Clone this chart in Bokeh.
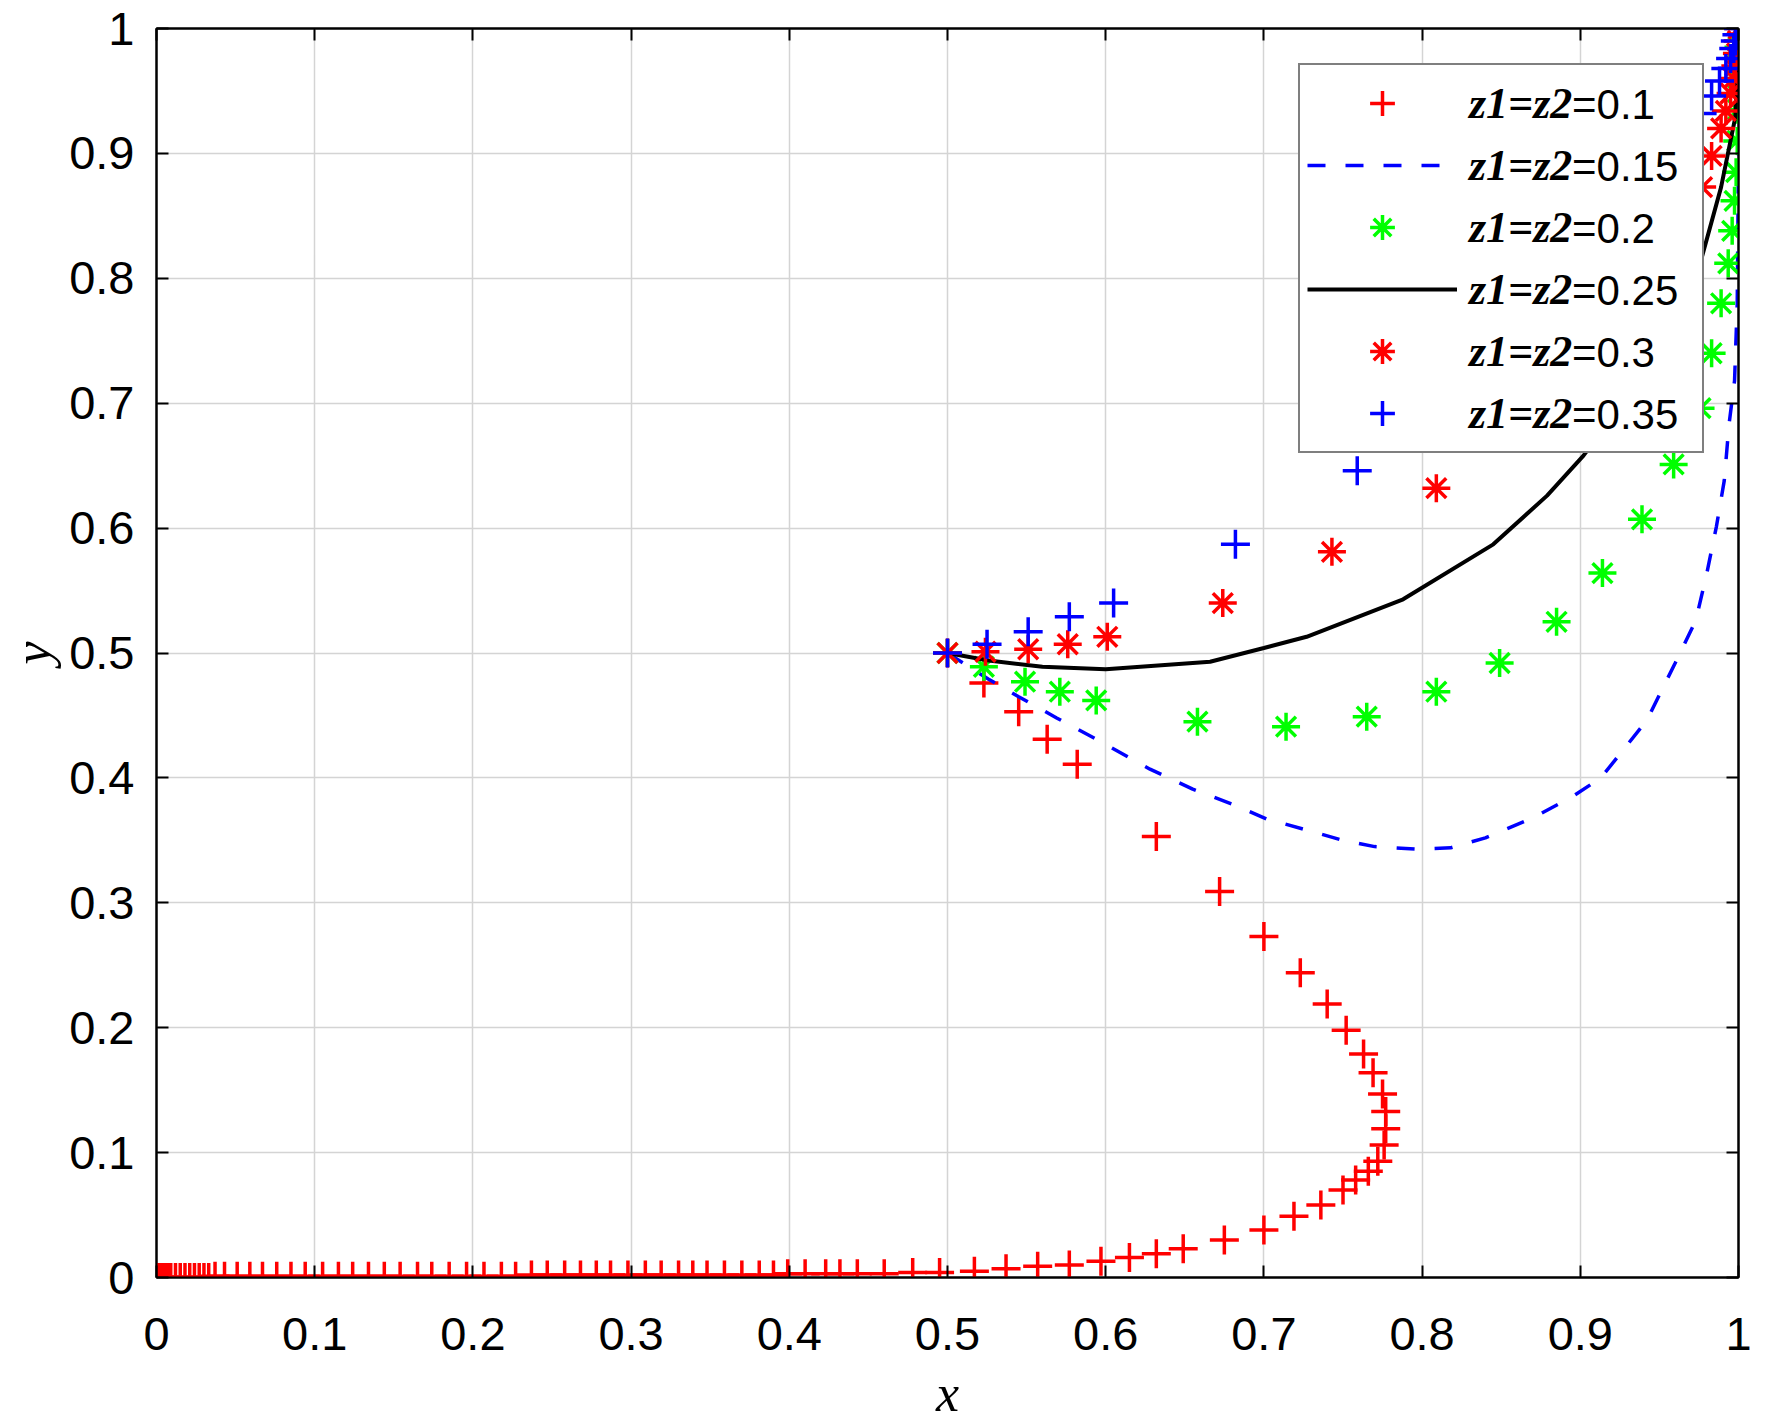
from bokeh.plotting import figure
from bokeh.models import (Range1d, FixedTicker, LinearAxis, Legend, LegendItem,
                          CustomJSTickFormatter)
from bokeh.embed import file_html
from bokeh.resources import INLINE

# ---------------- data ----------------
x_ticks = [0, 0.1, 0.2, 0.3, 0.4, 0.5, 0.6, 0.7, 0.8, 0.9, 1]
x_tick_labels = ["0", "0.1", "0.2", "0.3", "0.4", "0.5", "0.6", "0.7", "0.8", "0.9", "1"]
y_ticks = [0, 0.1, 0.2, 0.3, 0.4, 0.5, 0.6, 0.7, 0.8, 0.9, 1]
y_tick_labels = ["0", "0.1", "0.2", "0.3", "0.4", "0.5", "0.6", "0.7", "0.8", "0.9", "1"]

legend_left = ["z1=z2", "z1=z2", "z1=z2", "z1=z2", "z1=z2", "z1=z2"]
legend_right = ["=0.1", "=0.15", "=0.2", "=0.25", "=0.3", "=0.35"]

# z1=z2=0.1  (red +)
x01 = [0.500, 0.523, 0.545, 0.563, 0.582, 0.632, 0.672, 0.700, 0.723, 0.740,
       0.752, 0.763, 0.769, 0.775, 0.777, 0.777, 0.776, 0.772, 0.766, 0.758,
       0.750, 0.736, 0.719, 0.700, 0.675, 0.649, 0.632, 0.615, 0.597, 0.577,
       0.557, 0.537, 0.517, 0.495, 0.478, 0.460, 0.443, 0.432, 0.423, 0.410,
       0.399, 0.390, 0.381, 0.370, 0.359, 0.348, 0.339, 0.330, 0.319, 0.309,
       0.298, 0.287, 0.278, 0.268, 0.258, 0.247, 0.237, 0.227, 0.218, 0.207,
       0.196, 0.185, 0.174, 0.165, 0.154, 0.144, 0.134, 0.124, 0.115, 0.105,
       0.094, 0.085, 0.076, 0.067, 0.059, 0.051, 0.043, 0.037, 0.033, 0.030,
       0.027, 0.024, 0.021, 0.018, 0.015, 0.012, 0.009, 0.007, 0.005, 0.003,
       0.002, 0.001, 0.000]
y01 = [0.500, 0.476, 0.453, 0.431, 0.411, 0.353, 0.309, 0.273, 0.244, 0.219,
       0.198, 0.179, 0.164, 0.147, 0.133, 0.119, 0.106, 0.093, 0.085, 0.078,
       0.070, 0.058, 0.049, 0.038, 0.030, 0.023, 0.019, 0.016, 0.013, 0.010,
       0.009, 0.007, 0.005, 0.004, 0.004, 0.003, 0.003, 0.003, 0.003, 0.003,
       0.003, 0.002, 0.002, 0.002, 0.002, 0.002, 0.002, 0.002, 0.002, 0.002,
       0.002, 0.002, 0.002, 0.002, 0.002, 0.002, 0.002, 0.001, 0.001, 0.001,
       0.001, 0.001, 0.001, 0.001, 0.001, 0.001, 0.001, 0.001, 0.001, 0.001,
       0.001, 0.001, 0.001, 0.001, 0.001, 0.001, 0.001, 0.001, 0.000, 0.000,
       0.000, 0.000, 0.000, 0.000, 0.000, 0.000, 0.000, 0.000, 0.000, 0.000,
       0.000, 0.000, 0.000]

# z1=z2=0.15  (blue dashed)
x015 = [0.500, 0.526, 0.545, 0.569, 0.594, 0.628, 0.655, 0.680, 0.702, 0.725,
        0.750, 0.770, 0.797, 0.818, 0.840, 0.870, 0.895, 0.913, 0.942, 0.960,
        0.973, 0.980, 0.986, 0.991, 0.994, 0.9975, 0.9992, 1.000, 1.000]
y015 = [0.500, 0.479, 0.465, 0.448, 0.431, 0.407, 0.391, 0.379, 0.367, 0.359,
        0.350, 0.345, 0.343, 0.344, 0.352, 0.368, 0.385, 0.400, 0.446, 0.492,
        0.526, 0.564, 0.601, 0.638, 0.683, 0.718, 0.780, 0.900, 1.000]

# z1=z2=0.2  (green *)
x02 = [0.500, 0.523, 0.549, 0.571, 0.594, 0.658, 0.714, 0.765, 0.809, 0.849,
       0.885, 0.914, 0.939, 0.959, 0.976, 0.983, 0.989, 0.9935, 0.996, 0.9975,
       0.9985, 0.9992, 0.9996, 0.9998, 1.000]
y02 = [0.500, 0.489, 0.477, 0.469, 0.462, 0.445, 0.441, 0.449, 0.469, 0.492,
       0.525, 0.564, 0.607, 0.651, 0.696, 0.740, 0.780, 0.812, 0.838, 0.862,
       0.885, 0.910, 0.935, 0.960, 0.985]

# z1=z2=0.25  (black solid)
x025 = [0.500, 0.526, 0.560, 0.600, 0.666, 0.700, 0.727, 0.788, 0.845, 0.879,
        0.902, 0.930, 0.955, 0.976, 0.989, 0.998, 1.000]
y025 = [0.500, 0.494, 0.489, 0.487, 0.493, 0.504, 0.513, 0.543, 0.587, 0.626,
        0.658, 0.705, 0.755, 0.813, 0.873, 0.929, 1.000]

# z1=z2=0.3  (red *)
x03 = [0.500, 0.524, 0.551, 0.576, 0.601, 0.674, 0.743, 0.809, 0.870, 0.925,
       0.960, 0.977, 0.983, 0.989, 0.992, 0.995, 0.997, 0.998, 0.999, 0.9995, 1.000]
y03 = [0.500, 0.501, 0.503, 0.507, 0.513, 0.540, 0.581, 0.632, 0.690, 0.760,
       0.820, 0.873, 0.898, 0.920, 0.934, 0.948, 0.960, 0.970, 0.980, 0.990, 1.000]

# z1=z2=0.35  (blue +)
x035 = [0.500, 0.525, 0.551, 0.577, 0.605, 0.682, 0.759, 0.835, 0.900, 0.950,
        0.977, 0.983, 0.988, 0.992, 0.995, 0.997, 0.998, 0.999, 1.000]
y035 = [0.500, 0.507, 0.517, 0.529, 0.540, 0.587, 0.646, 0.720, 0.800, 0.880,
        0.932, 0.946, 0.958, 0.968, 0.976, 0.984, 0.990, 0.995, 1.000]

# ---------------- figure ----------------
p = figure(frame_width=1582, frame_height=1249,
           x_range=Range1d(0, 1), y_range=Range1d(0, 1),
           output_backend="svg", toolbar_location=None,
           min_border_left=156, min_border_right=20,
           min_border_top=28, min_border_bottom=137)
p.background_fill_color = "white"
p.border_fill_color = "white"
p.outline_line_color = "black"
p.outline_line_width = 2

fmt_code = """
let best = 0;
for (let i = 0; i < vals.length; i++) {
  if (Math.abs(vals[i] - tick) < Math.abs(vals[best] - tick)) best = i;
}
return labs[best];
"""
p.xaxis.ticker = FixedTicker(ticks=x_ticks)
p.yaxis.ticker = FixedTicker(ticks=y_ticks)
p.xaxis.formatter = CustomJSTickFormatter(args=dict(vals=x_ticks, labs=x_tick_labels), code=fmt_code)
p.yaxis.formatter = CustomJSTickFormatter(args=dict(vals=y_ticks, labs=y_tick_labels), code=fmt_code)

for ax in (p.xaxis[0], p.yaxis[0]):
    ax.axis_line_color = "black"
    ax.axis_line_width = 2
    ax.major_tick_in = 12
    ax.major_tick_out = 0
    ax.major_tick_line_width = 2
    ax.major_tick_line_color = "black"
    ax.minor_tick_line_color = None
    ax.major_label_text_font = "Liberation Sans"
    ax.major_label_text_font_size = "47px"
    ax.major_label_text_color = "black"
    ax.axis_label_text_font = "Liberation Serif"
    ax.axis_label_text_font_style = "italic"
    ax.axis_label_text_font_size = "52px"
    ax.axis_label_text_color = "black"

p.xaxis.axis_label = "x"
p.yaxis.axis_label = "y"
p.xaxis.major_label_standoff = 40
p.yaxis.major_label_standoff = 22
p.xaxis.axis_label_standoff = 12
p.yaxis.axis_label_standoff = 5

for side, tk in (("above", x_ticks), ("right", y_ticks)):
    ax = LinearAxis(ticker=FixedTicker(ticks=tk),
                    formatter=CustomJSTickFormatter(code="return ''"),
                    major_tick_in=12, major_tick_out=0, major_tick_line_width=2,
                    minor_tick_line_color=None, axis_line_width=2,
                    major_label_standoff=0)
    p.add_layout(ax, side)

p.grid.grid_line_color = "#d4d4d4"
p.grid.grid_line_width = 1.5

# ---------------- series ----------------
r1 = p.scatter(x01, y01, marker="cross", size=29, line_color="#ff0000", line_width=3.5)
r2 = p.line(x015, y015, line_color="#0000ff", line_width=3.5, line_dash="18 20")
r3 = p.scatter(x02, y02, marker="asterisk", size=28, line_color="#00ff00", line_width=3.5)
r4 = p.line(x025, y025, line_color="black", line_width=4)
r5 = p.scatter(x03, y03, marker="asterisk", size=28, line_color="#ff0000", line_width=3.5)
r6 = p.scatter(x035, y035, marker="cross", size=29, line_color="#0000ff", line_width=3.5)
renderers = [r1, r2, r3, r4, r5, r6]

dummy = p.line(x=[], y=[], line_alpha=0)

leg1 = Legend(items=[LegendItem(label=t, renderers=[r]) for t, r in zip(legend_left, renderers)],
              location=(1142, 824), margin=0, padding=7,
              glyph_height=62, glyph_width=150, spacing=0, label_standoff=12,
              label_width=226, label_height=20,
              label_text_font="Liberation Serif", label_text_font_style="bold italic",
              label_text_font_size="44px", label_text_color="black",
              border_line_color="black", border_line_width=2,
              background_fill_color="white", background_fill_alpha=1)
leg2 = Legend(items=[LegendItem(label=t, renderers=[dummy]) for t in legend_right],
              location=(1408, 824), margin=0, padding=7,
              glyph_height=62, glyph_width=1, spacing=0, label_standoff=0,
              label_height=20,
              label_text_font="Liberation Sans", label_text_font_size="42px",
              label_text_color="black",
              border_line_alpha=0, background_fill_alpha=0)
p.add_layout(leg1)
p.add_layout(leg2)

open("out.html", "w").write(file_html(p, INLINE, title="phase trajectories"))
